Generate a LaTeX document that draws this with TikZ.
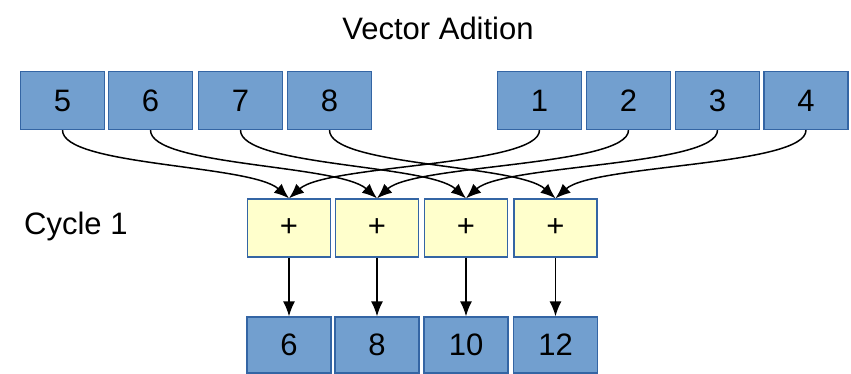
\documentclass[tikz,border=0pt]{standalone}
\usepackage{fontspec}
\setmainfont{Liberation Sans}
\usetikzlibrary{arrows.meta}
\definecolor{boxblue}{HTML}{729FCF}
\definecolor{boxedge}{HTML}{3465A4}
\definecolor{pluscol}{HTML}{FFFFCC}
\begin{document}
\begin{tikzpicture}[x=1pt,y=-1pt,
  valbox/.style={draw=boxedge,line width=1.3pt,fill=boxblue,minimum width=84pt,minimum height=58pt,inner sep=0pt,font=\fontsize{31}{36}\selectfont},
  plusbox/.style={draw=boxedge,line width=1.3pt,fill=pluscol,minimum width=83pt,minimum height=58pt,inner sep=0pt,font=\fontsize{31}{36}\selectfont},
  resbox/.style={valbox,minimum height=56pt},
  lbl/.style={font=\fontsize{31}{36}\selectfont,inner sep=0pt},
  conn/.style={line width=1.5pt,-{Latex[length=15pt,width=12pt]}},
]
\useasboundingbox (0,0) rectangle (851,374);
\node[lbl,anchor=base] (title) at (438,40) {Vector Adition};
\node[lbl,anchor=base west] (cycle) at (24,234) {Cycle 1};
% top boxes
\node[valbox] (a5) at (62.5,100.5) {5};
\node[valbox] (a6) at (150.5,100.5) {6};
\node[valbox] (a7) at (240.5,100.5) {7};
\node[valbox] (a8) at (329.5,100.5) {8};
\node[valbox] (b1) at (539.5,100.5) {1};
\node[valbox] (b2) at (628.5,100.5) {2};
\node[valbox] (b3) at (717.5,100.5) {3};
\node[valbox] (b4) at (806,100.5) {4};
% plus boxes
\node[plusbox] (p1) at (289,228) {+};
\node[plusbox] (p2) at (377,228) {+};
\node[plusbox] (p3) at (466,228) {+};
\node[plusbox] (p4) at (555.5,228) {+};
% results
\node[resbox] (r1) at (289,345) {6};
\node[resbox] (r2) at (377,345) {8};
\node[resbox] (r3) at (466,345) {10};
\node[resbox] (r4) at (555.5,345) {12};
% curves
\foreach \s/\t in {a5/p1,a6/p2,a7/p3,a8/p4}{
  \draw[conn] (\s.south) .. controls +(0,36) and +(-38,-34) .. (\t.north);
}
\foreach \s/\t in {b1/p1,b2/p2,b3/p3,b4/p4}{
  \draw[conn] (\s.south) .. controls +(0,36) and +(38,-34) .. (\t.north);
}
% vertical arrows
\foreach \i in {1,2,3,4}{
  \draw[conn] (p\i.south) -- (r\i.north);
}
\end{tikzpicture}
\end{document}
